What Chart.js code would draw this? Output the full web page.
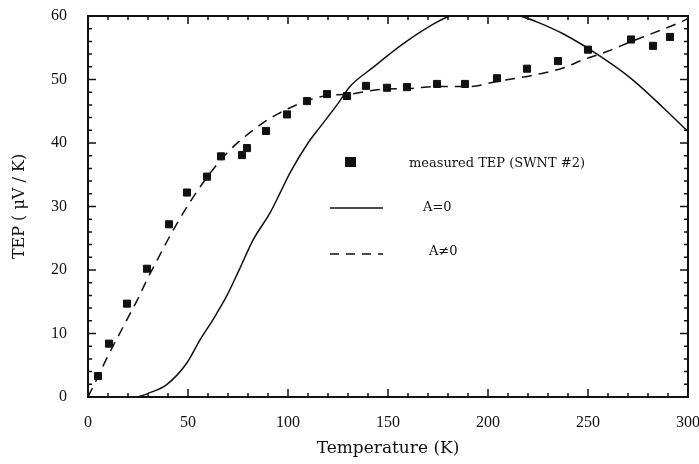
<!DOCTYPE html>
<html>
<head>
<meta charset="utf-8">
<script src="https://cdn.jsdelivr.net/npm/chart.js@4.4.0/dist/chart.umd.min.js"></script>
<style>
  html, body { margin: 0; padding: 0; background: #fff; }
  #wrap { width: 699px; height: 464px; }
</style>
</head>
<body>
<div id="wrap"><canvas id="tep_chart" width="699" height="464"></canvas></div>
<script>
// measured points (SWNT #2)
const measuredT   = [5, 10.5, 19.5, 29.5, 40.5, 49.5, 59.5, 66.5, 77, 79.5, 89, 99.5, 109.5, 119.5, 129.5, 139, 149.5, 159.5, 174.5, 188.5, 204.5, 219.5, 235, 250, 271.5, 282.5, 291];
const measuredTEP = [3.3, 8.4, 14.7, 20.2, 27.2, 32.2, 34.7, 37.9, 38.1, 39.2, 41.9, 44.5, 46.6, 47.7, 47.4, 49.0, 48.7, 48.8, 49.3, 49.3, 50.2, 51.7, 52.9, 54.7, 56.3, 55.3, 56.7];

// A=0 model (solid)
const solidT   = [25, 29.5, 39.5, 49.5, 56, 62.5, 69.5, 76, 82.5, 91, 96, 101, 110, 116, 124.5, 131, 142.5, 157.5, 172, 181, 190, 200, 210, 216, 225, 237.5, 254.5, 271, 287.5, 300];
const solidTEP = [0, 0.5, 2, 5.4, 9, 12.2, 16, 20.3, 24.7, 29, 32.1, 35.3, 40, 42.5, 46, 48.9, 51.9, 55.6, 58.6, 60, 60.4, 60.5, 60.3, 60, 59, 57.2, 54, 50.3, 45.6, 41.8];

// A≠0 model (dashed)
const dashT   = [0, 5, 10, 15, 20, 25, 30, 35, 40, 45, 50, 55, 60, 65, 70, 75, 80, 85, 90, 95, 100, 105, 110, 115, 120, 125, 131, 144.5, 161, 176, 191, 204.5, 214.5, 224.5, 237.5, 247.5, 259.5, 271, 282.5, 296, 300];
const dashTEP = [0, 3.2, 6.5, 9.5, 12.5, 15.5, 18.8, 21.8, 24.8, 27.6, 30.2, 32.6, 34.8, 36.8, 38.6, 40.1, 41.4, 42.6, 43.7, 44.6, 45.4, 46.1, 46.7, 47.2, 47.5, 47.6, 47.7, 48.4, 48.6, 48.9, 48.9, 49.7, 50.2, 50.8, 51.8, 53.1, 54.4, 55.9, 57.3, 59, 59.6];

const xTicks = [0, 50, 100, 150, 200, 250, 300];
const yTicks = [0, 10, 20, 30, 40, 50, 60];

function pts(xs, ys) {
   return xs.map((x, i) => ({ x: x, y: ys[i] }));
}

const serif = "'DejaVu Serif', 'Liberation Serif', serif";
const times = "'Liberation Serif', 'DejaVu Serif', serif";
const ink = '#111';

// frame, inward ticks and the legend box
const framePlugin = {
   id: 'frame',
   afterDraw(chart) {
      const ctx = chart.ctx;
      const a = chart.chartArea;
      const xs = chart.scales.x;
      const ys = chart.scales.y;
      ctx.save();
      ctx.strokeStyle = ink;
      ctx.lineWidth = 2;
      ctx.strokeRect(a.left, a.top, a.right - a.left, a.bottom - a.top);

      ctx.lineWidth = 1.5;
      ctx.beginPath();
      for (let v = 0; v <= 300; v += 10) {
         const px = xs.getPixelForValue(v);
         const len = v % 50 == 0 ? 8 : 4;
         ctx.moveTo(px, a.bottom); ctx.lineTo(px, a.bottom - len);
         ctx.moveTo(px, a.top); ctx.lineTo(px, a.top + len);
      }
      for (let v = 0; v <= 60; v += 2) {
         const py = ys.getPixelForValue(v);
         const len = v % 10 == 0 ? 8 : 4;
         ctx.moveTo(a.left, py); ctx.lineTo(a.left + len, py);
         ctx.moveTo(a.right, py); ctx.lineTo(a.right - len, py);
      }
      ctx.stroke();

      // legend
      ctx.fillStyle = ink;
      ctx.font = "13px " + serif;
      ctx.textBaseline = 'middle';
      ctx.fillRect(345, 157, 11, 10);
      ctx.fillText('measured TEP (SWNT #2)', 409, 164);

      ctx.lineWidth = 1.5;
      ctx.beginPath();
      ctx.moveTo(330, 208); ctx.lineTo(383, 208);
      ctx.stroke();
      ctx.fillText('A=0', 423, 208);

      ctx.setLineDash([9, 7]);
      ctx.beginPath();
      ctx.moveTo(330, 254); ctx.lineTo(383, 254);
      ctx.stroke();
      ctx.setLineDash([]);
      ctx.fillText('A\u22600', 429, 252);
      ctx.restore();
   }
};

const ctx = document.getElementById('tep_chart');
new Chart(ctx, {
   type: 'scatter',
   data: {
      datasets: [{
         label: 'measured TEP (SWNT #2)',
         data: pts(measuredT, measuredTEP),
         pointStyle: 'rect',
         pointRadius: 5,
         backgroundColor: ink,
         borderColor: ink,
         showLine: false,
         order: 0
      }, {
         label: 'A=0',
         data: pts(solidT, solidTEP),
         showLine: true,
         borderColor: ink,
         borderWidth: 1.5,
         pointRadius: 0,
         cubicInterpolationMode: 'monotone',
         order: 1
      }, {
         label: 'A\u22600',
         data: pts(dashT, dashTEP),
         showLine: true,
         borderColor: ink,
         borderWidth: 1.5,
         borderDash: [10, 7],
         pointRadius: 0,
         cubicInterpolationMode: 'monotone',
         order: 2
      }]
   },
   options: {
      responsive: false,
      animation: false,
      layout: {
         padding: { left: 0, right: 11, top: 16, bottom: 0 }
      },
      plugins: {
         legend: { display: false },
         tooltip: { enabled: false }
      },
      scales: {
         x: {
            type: 'linear',
            min: 0,
            max: 300,
            afterBuildTicks: s => { s.ticks = xTicks.map(v => ({ value: v })); },
            afterFit: s => { s.height = 67; s.paddingLeft = 0; s.paddingRight = 0; },
            grid: { display: false, drawTicks: false },
            border: { display: false },
            ticks: { color: ink, padding: 16, maxRotation: 0, font: { family: times, size: 16 } },
            title: {
               display: true,
               text: 'Temperature (K)',
               color: ink,
               font: { family: serif, size: 17 },
               padding: { top: 0, bottom: 5 }
            }
         },
         y: {
            min: 0,
            max: 60,
            afterBuildTicks: s => { s.ticks = yTicks.map(v => ({ value: v })); },
            afterFit: s => { s.width = 88; s.paddingTop = 0; s.paddingBottom = 0; },
            grid: { display: false, drawTicks: false },
            border: { display: false },
            ticks: { color: ink, padding: 21, font: { family: times, size: 16 } },
            title: {
               display: true,
               text: 'TEP ( \u03bcV / K)',
               color: ink,
               font: { family: serif, size: 16 },
               padding: { top: 10, bottom: 0 }
            }
         }
      }
   },
   plugins: [framePlugin]
});
</script>
</body>
</html>
